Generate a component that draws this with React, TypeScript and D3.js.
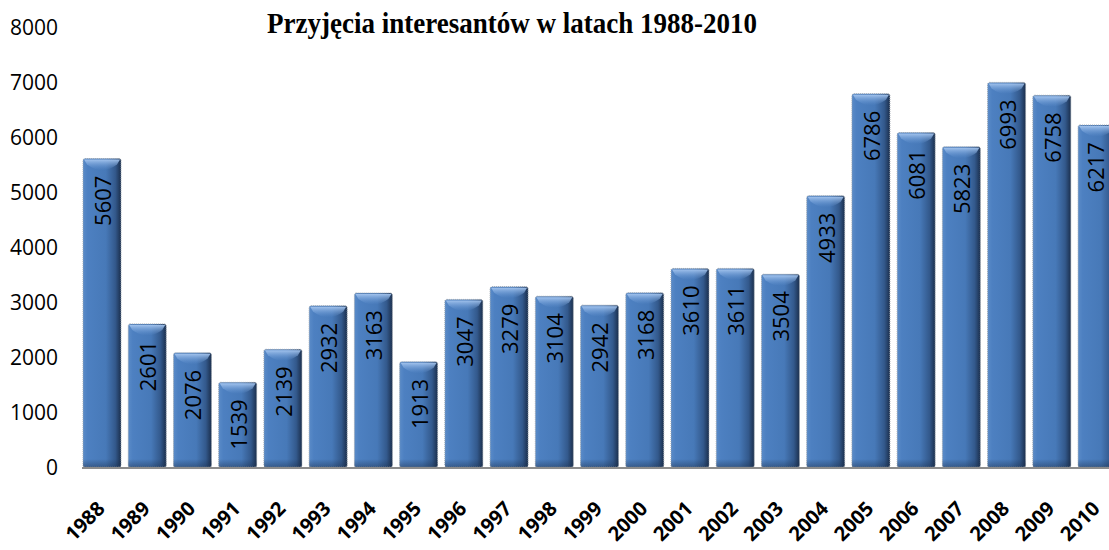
import React, { useEffect, useRef } from "react";
import * as d3 from "d3";

// Admissions per year, 1988-2010
const YEARS = [
  "1988", "1989", "1990", "1991", "1992", "1993", "1994", "1995", "1996", "1997", "1998", "1999",
  "2000", "2001", "2002", "2003", "2004", "2005", "2006", "2007", "2008", "2009", "2010",
];
const VALUES = [
  5607, 2601, 2076, 1539, 2139, 2932, 3163, 1913, 3047, 3279, 3104, 2942,
  3168, 3610, 3611, 3504, 4933, 6786, 6081, 5823, 6993, 6758, 6217,
];
const Y_TICKS = [0, 1000, 2000, 3000, 4000, 5000, 6000, 7000, 8000];
const TITLE = "Przyjęcia interesantów w latach 1988-2010";

export default function App() {
  const svgRef = useRef<SVGSVGElement>(null);

  useEffect(() => {
    const width = 1109;
    const height = 550;
    const svg = d3.select(svgRef.current);
    svg.selectAll("*").remove();
    svg.attr("width", width).attr("height", height).attr("viewBox", `0 0 ${width} ${height}`);

    const data = YEARS.map((year, i) => ({ year, value: VALUES[i] }));

    const x = d3.scaleBand<string>()
      .domain(YEARS)
      .range([79.4, 1119.7])
      .paddingInner(0.16)
      .paddingOuter(0.08);

    const y = d3.scaleLinear().domain([0, 8000]).range([467, 27]);

    const defs = svg.append("defs");
    const side = defs.append("linearGradient").attr("id", "barSide")
      .attr("x1", "0").attr("x2", "1").attr("y1", "0").attr("y2", "0");
    side.append("stop").attr("offset", "0%").attr("stop-color", "#5a8bc8");
    side.append("stop").attr("offset", "12%").attr("stop-color", "#4d80c1");
    side.append("stop").attr("offset", "60%").attr("stop-color", "#4779b8");
    side.append("stop").attr("offset", "85%").attr("stop-color", "#33598c");
    side.append("stop").attr("offset", "100%").attr("stop-color", "#1b2f4d");

    const cap = defs.append("linearGradient").attr("id", "barCap")
      .attr("x1", "0").attr("x2", "0").attr("y1", "0").attr("y2", "1");
    cap.append("stop").attr("offset", "0%").attr("stop-color", "#a6c6ef").attr("stop-opacity", 0.95);
    cap.append("stop").attr("offset", "100%").attr("stop-color", "#6b9ad6").attr("stop-opacity", 0);

    const bottom = defs.append("linearGradient").attr("id", "barBottom")
      .attr("x1", "0").attr("x2", "0").attr("y1", "0").attr("y2", "1");
    bottom.append("stop").attr("offset", "0%").attr("stop-color", "#1b2f4d").attr("stop-opacity", 0);
    bottom.append("stop").attr("offset", "100%").attr("stop-color", "#1b2f4d").attr("stop-opacity", 0.45);

    // Title
    svg.append("text")
      .attr("x", 512).attr("y", 33)
      .attr("text-anchor", "middle")
      .attr("textLength", 490)
      .attr("lengthAdjust", "spacingAndGlyphs")
      .style("font-family", "'Liberation Serif', 'Times New Roman', serif")
      .style("font-weight", 700)
      .style("font-size", "29px")
      .attr("fill", "#000")
      .text(TITLE);

    // Y axis labels
    svg.append("g").selectAll("text")
      .data(Y_TICKS)
      .join("text")
      .attr("x", 58)
      .attr("y", d => y(d))
      .attr("dy", "0.36em")
      .attr("text-anchor", "end")
      .style("font-family", "'Open Sans', sans-serif")
      .style("font-size", "21px")
      .attr("fill", "#000")
      .text(d => d);

    const bars = svg.append("g").selectAll("g")
      .data(data)
      .join("g")
      .attr("transform", d => `translate(${x(d.year)},${y(d.value)})`);

    const bw = x.bandwidth();

    bars.append("rect")
      .attr("width", bw)
      .attr("height", d => y(0) - y(d.value))
      .attr("rx", 2)
      .attr("fill", "url(#barSide)")
      .attr("stroke", "#9aa3ad")
      .attr("stroke-width", 1)
      .attr("stroke-dasharray", "1,1");

    // top highlight cap
    bars.append("path")
      .attr("d", `M1,1 L${bw - 1},1 L${bw - 4},6 Q${bw / 2},17 4,6 Z`)
      .attr("fill", "url(#barCap)");

    bars.append("rect")
      .attr("y", d => y(0) - y(d.value) - 8)
      .attr("width", bw)
      .attr("height", 8)
      .attr("fill", "url(#barBottom)");

    // value labels (kept inside the picture for the clipped last bar)
    bars.append("text")
      .attr("transform", d => {
        const cx = Math.min(bw / 2 + 1, width - 13 - (x(d.year) ?? 0));
        return `translate(${cx},17) rotate(-90)`;
      })
      .attr("text-anchor", "end")
      .attr("dy", "0.36em")
      .style("font-family", "'Open Sans', sans-serif")
      .style("font-size", "22px")
      .attr("fill", "#000")
      .text(d => d.value);

    // baseline
    svg.append("line")
      .attr("x1", 82).attr("x2", width)
      .attr("y1", y(0) + 1).attr("y2", y(0) + 1)
      .attr("stroke", "#8c8c8c").attr("stroke-width", 2);

    // X labels
    svg.append("g").selectAll("text")
      .data(YEARS)
      .join("text")
      .attr("transform", d => `translate(${(x(d) ?? 0) + bw / 2 + 4},${y(0) + 43}) rotate(-45)`)
      .attr("text-anchor", "end")
      .style("font-family", "'Open Sans', sans-serif")
      .style("font-weight", 700)
      .style("font-size", "20px")
      .attr("fill", "#000")
      .text(d => d);
  }, []);

  return (
    <div style={{ position: "absolute", left: 0, top: 0, width: 1109, height: 550, background: "#fff" }}>
      <svg ref={svgRef} style={{ display: "block" }} />
    </div>
  );
}
